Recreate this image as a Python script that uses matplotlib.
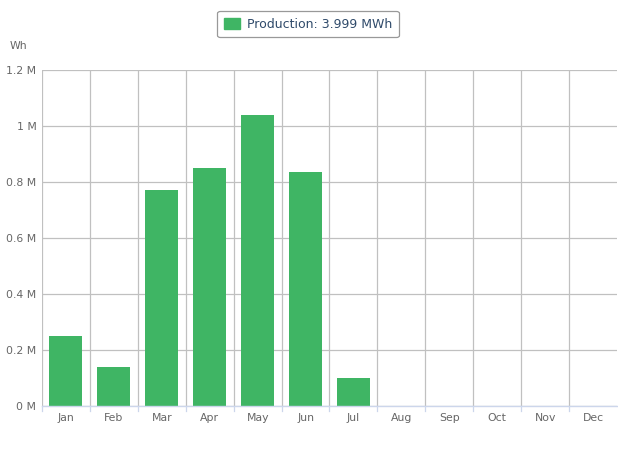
import numpy as np
import matplotlib.pyplot as plt
from matplotlib.patches import Patch

months = ["Jan", "Feb", "Mar", "Apr", "May", "Jun", "Jul", "Aug", "Sep", "Oct", "Nov", "Dec"]
production = [250000, 139000, 771000, 850000, 1039000, 836000, 100000, 0, 0, 0, 0, 0]
yticks = [0, 200000, 400000, 600000, 800000, 1000000, 1200000]
ytick_labels = ["0 M", "0.2 M", "0.4 M", "0.6 M", "0.8 M", "1 M", "1.2 M"]

green = "#3fb564"
text_col = "#666666"

plt.rcParams["font.family"] = ["DejaVu Sans"]

fig = plt.figure(figsize=(6.18, 4.65), dpi=100)
ax = fig.add_axes([42 / 618, 1 - 406 / 465, 575 / 618, 336 / 465])

x = np.arange(len(months))
ax.bar(x, production, width=0.69, color=green, zorder=3)

ax.set_xlim(-0.5, len(months) - 0.5)
ax.set_ylim(0, 1200000)
ax.set_yticks(yticks)
ax.set_yticklabels(ytick_labels, color=text_col, fontsize=7.8)
ax.set_xticks(x)
ax.set_xticklabels(months, color=text_col, fontsize=7.8)
ax.tick_params(axis="y", length=0, pad=4)
ax.tick_params(axis="x", length=0, pad=5)

# vertical grid at category boundaries (none on the right edge)
for b in np.arange(-0.5, len(months) - 0.5, 1):
    ax.axvline(b, color="#c0c0c0", lw=0.9, zorder=1)
    ax.plot([b, b], [0, -0.014], transform=ax.get_xaxis_transform(),
            color="#ccd6eb", lw=0.9, clip_on=False)
ax.yaxis.grid(True, color="#c0c0c0", lw=0.9, zorder=1)

for s in ["top", "right", "left"]:
    ax.spines[s].set_visible(False)
ax.spines["bottom"].set_color("#ccd6eb")
ax.spines["bottom"].set_linewidth(1)
ax.spines["bottom"].set_zorder(4)

fig.text(10 / 618, 1 - 46 / 465, "Wh", color=text_col, fontsize=7.8, va="center", ha="left")

leg = fig.legend(handles=[Patch(color=green)], labels=["Production: 3.999 MWh"],
                 loc="center", bbox_to_anchor=(308 / 618, 1 - 24 / 465),
                 frameon=True, fontsize=9, handlelength=1.3, handleheight=1.0,
                 handletextpad=0.5, borderpad=0.55, borderaxespad=0,
                 fancybox=True, framealpha=1)
leg.get_frame().set_edgecolor("#999999")
leg.get_frame().set_linewidth(0.9)
for t in leg.get_texts():
    t.set_color("#2f4a6a")

fig.savefig("out.png", dpi=100)
